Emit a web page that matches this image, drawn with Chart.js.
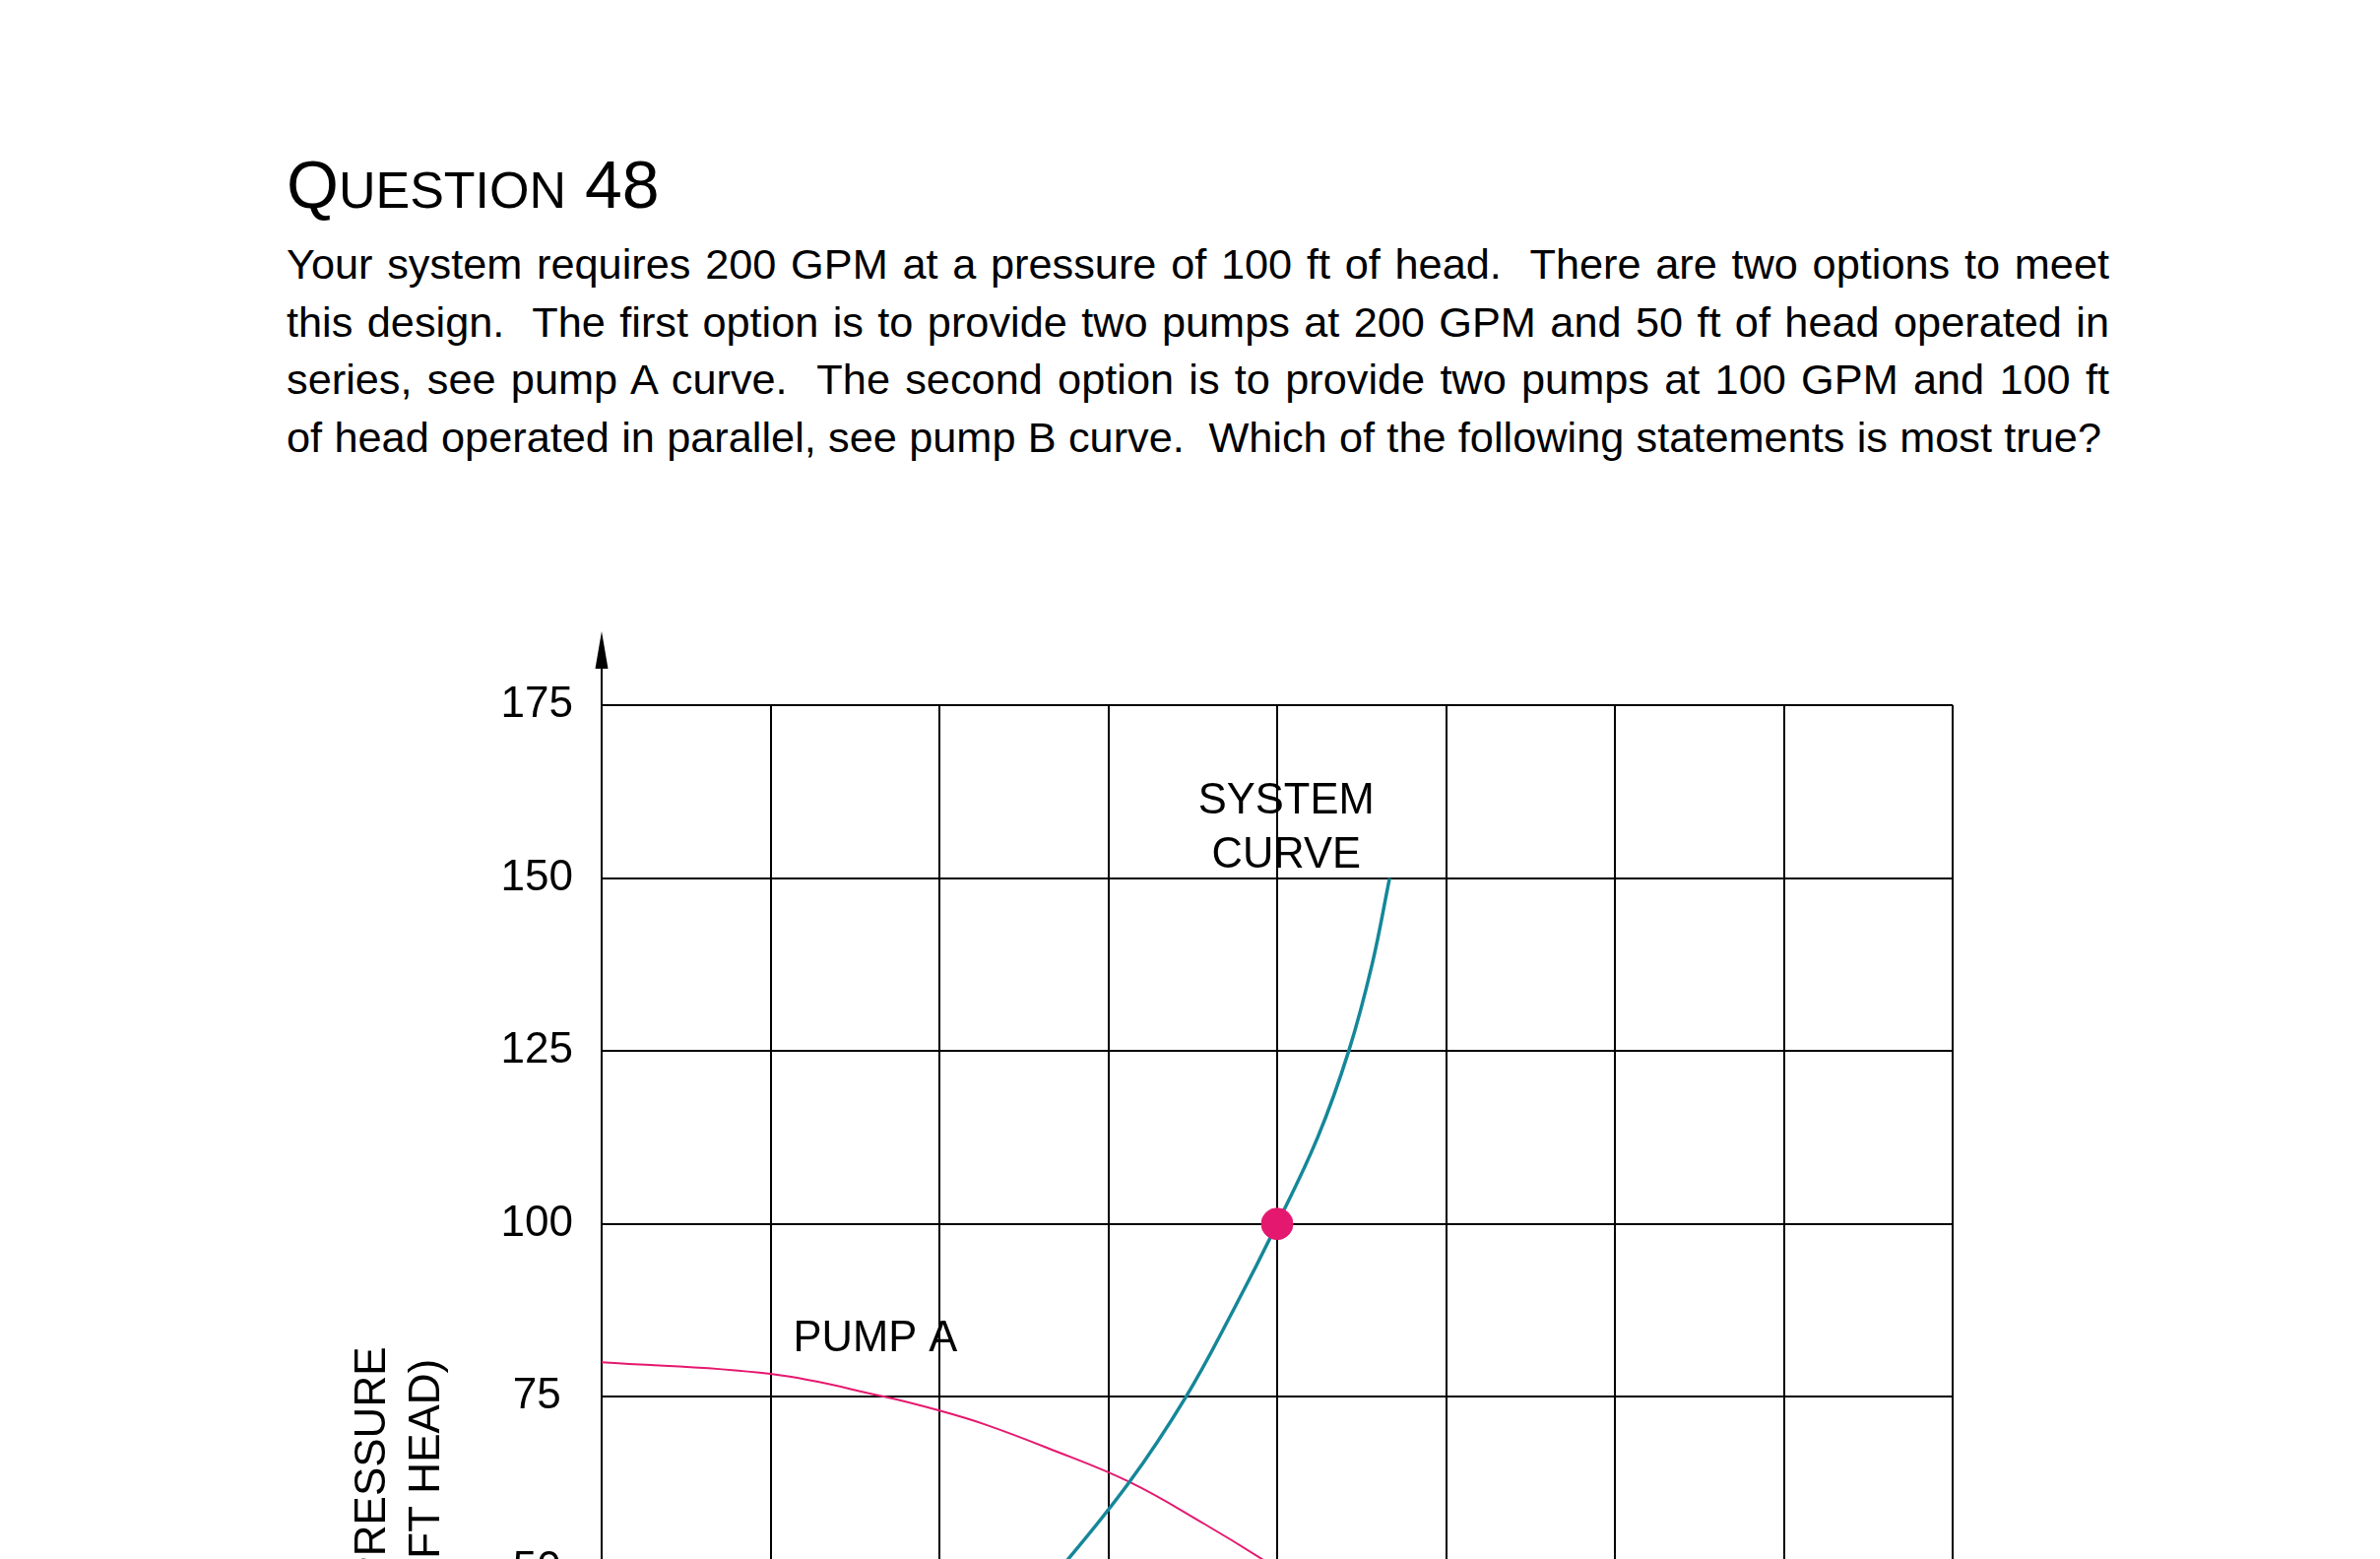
<!DOCTYPE html>
<html>
<head>
<meta charset="utf-8">
<script src="https://cdn.jsdelivr.net/npm/chart.js@4"></script>
<style>
  html, body { margin: 0; padding: 0; background: #fff; width: 2417px; height: 1583px; overflow: hidden; }
  .page { position: relative; width: 2417px; height: 1583px; overflow: hidden; font-family: "Liberation Sans", Arial, sans-serif; color: #000; }
  .title { position: absolute; left: 291px; top: 153px; font-size: 68px; line-height: 68px; white-space: nowrap; }
  .title .sc { font-size: 52px; }
  .para { position: absolute; left: 291px; top: 239px; width: 1851px; font-size: 43.3px; line-height: 58.5px; }
  .para div { white-space: nowrap; text-align: justify; text-align-last: justify; }
  .para div.last { width: 1843px; }
  #chart { position: absolute; left: 0; top: 600px; }
</style>
</head>
<body>
<div class="page">
  <div class="title">Q<span class="sc">UESTION</span> 48</div>
  <div class="para">
    <div>Your system requires 200 GPM at a pressure of 100 ft of head.&nbsp; There are two options to meet</div>
    <div>this design.&nbsp; The first option is to provide two pumps at 200 GPM and 50 ft of head operated in</div>
    <div>series, see pump A curve.&nbsp; The second option is to provide two pumps at 100 GPM and 100 ft</div>
    <div class="last">of head operated in parallel, see pump B curve.&nbsp; Which of the following statements is most true?</div>
  </div>
  <canvas id="chart" width="2417" height="1500"></canvas>
</div>
<script>
// axis ticks
const flowTicks = [0, 50, 100, 150, 200, 250, 300, 350, 400]
const headTicks = [0, 25, 50, 75, 100, 125, 150, 175]

// system curve (GPM, ft of head)
const systemFlow = [126, 135.5, 156, 173, 187, 200, 212, 221.2, 228.1, 233.3]
const systemHead = [45, 50, 62.5, 75, 87.5, 100, 112.5, 125, 137.5, 150]

// pump A curve
const pumpAFlow = [0, 50, 83.8, 100, 113.5, 132, 156.2, 178.5, 195.3, 210]
const pumpAHead = [80, 78.3, 75, 73, 71, 67.6, 62.7, 56.6, 51.6, 46.8]

// design point
const designFlow = [200]
const designHead = [100]

const toPoints = (xs, ys) => xs.map((x, i) => ({ x: x, y: ys[i] }))

const pink = '#e5186f'
const teal = '#158799'
const labelFont = '43.5px "Liberation Sans", Arial, sans-serif'

// arrow on the y axis, curve labels and the axis title
const extras = {
  id: 'extras',
  afterDraw(chart) {
    let ctx = chart.ctx
    let area = chart.chartArea
    let xs = chart.scales.x
    let ys = chart.scales.y
    ctx.save()

    // arrow above the y axis
    ctx.strokeStyle = '#000'
    ctx.fillStyle = '#000'
    ctx.lineWidth = 2
    ctx.beginPath()
    ctx.moveTo(area.left, area.top)
    ctx.lineTo(area.left, area.top - 40)
    ctx.stroke()
    ctx.beginPath()
    ctx.moveTo(area.left, area.top - 75)
    ctx.lineTo(area.left + 6.5, area.top - 37)
    ctx.lineTo(area.left - 6.5, area.top - 37)
    ctx.closePath()
    ctx.fill()

    // curve labels
    ctx.font = labelFont
    ctx.textBaseline = 'alphabetic'
    ctx.textAlign = 'center'
    ctx.fillText('SYSTEM', xs.getPixelForValue(202.7), ys.getPixelForValue(159.4))
    ctx.fillText('CURVE', xs.getPixelForValue(202.7), ys.getPixelForValue(151.55))
    ctx.textAlign = 'left'
    ctx.fillText('PUMP A', xs.getPixelForValue(56.7), ys.getPixelForValue(81.65))

    // y axis title, two lines
    ctx.font = '44px "Liberation Sans", Arial, sans-serif'
    ctx.textAlign = 'center'
    let cy = ys.getPixelForValue(65)
    ;[['PRESSURE', -220.5], ['(FT HEAD)', -165.5]].forEach(function(line) {
      ctx.save()
      ctx.translate(area.left + line[1], cy)
      ctx.rotate(-Math.PI / 2)
      ctx.fillText(line[0], 0, 0)
      ctx.restore()
    })
    ctx.restore()
  }
}

new Chart(document.getElementById('chart'), {
  type: 'scatter',
  data: {
    datasets: [{
      label: 'Design point',
      data: toPoints(designFlow, designHead),
      backgroundColor: pink,
      borderColor: pink,
      pointRadius: 16,
      showLine: false,
      order: 0
    }, {
      label: 'System curve',
      data: toPoints(systemFlow, systemHead),
      borderColor: teal,
      borderWidth: 3.5,
      pointRadius: 0,
      showLine: true,
      tension: 0.4,
      order: 1
    }, {
      label: 'Pump A',
      data: toPoints(pumpAFlow, pumpAHead),
      borderColor: pink,
      borderWidth: 2,
      pointRadius: 0,
      showLine: true,
      tension: 0.4,
      order: 2
    }]
  },
  options: {
    responsive: false,
    animation: false,
    layout: { padding: { left: 461, right: 434, top: 116, bottom: 75 } },
    plugins: { legend: { display: false }, tooltip: { enabled: false } },
    scales: {
      x: {
        type: 'linear',
        min: flowTicks[0],
        max: flowTicks[flowTicks.length - 1],
        afterBuildTicks: s => { s.ticks = flowTicks.map(v => ({ value: v })) },
        afterFit: s => { s.height = 80 },
        grid: { color: '#000', lineWidth: 2, drawTicks: false },
        border: { color: '#000', width: 2 },
        ticks: { color: '#000', padding: 20, font: { family: '"Liberation Sans", Arial, sans-serif', size: 44 } }
      },
      y: {
        type: 'linear',
        min: headTicks[0],
        max: headTicks[headTicks.length - 1],
        afterBuildTicks: s => { s.ticks = headTicks.map(v => ({ value: v })) },
        afterFit: s => { s.width = 150 },
        grid: { color: '#000', lineWidth: 2, drawTicks: false },
        border: { color: '#000', width: 2 },
        ticks: { color: '#000', padding: 29, crossAlign: 'center', font: { family: '"Liberation Sans", Arial, sans-serif', size: 44 } }
      }
    }
  },
  plugins: [extras]
})
</script>
</body>
</html>
